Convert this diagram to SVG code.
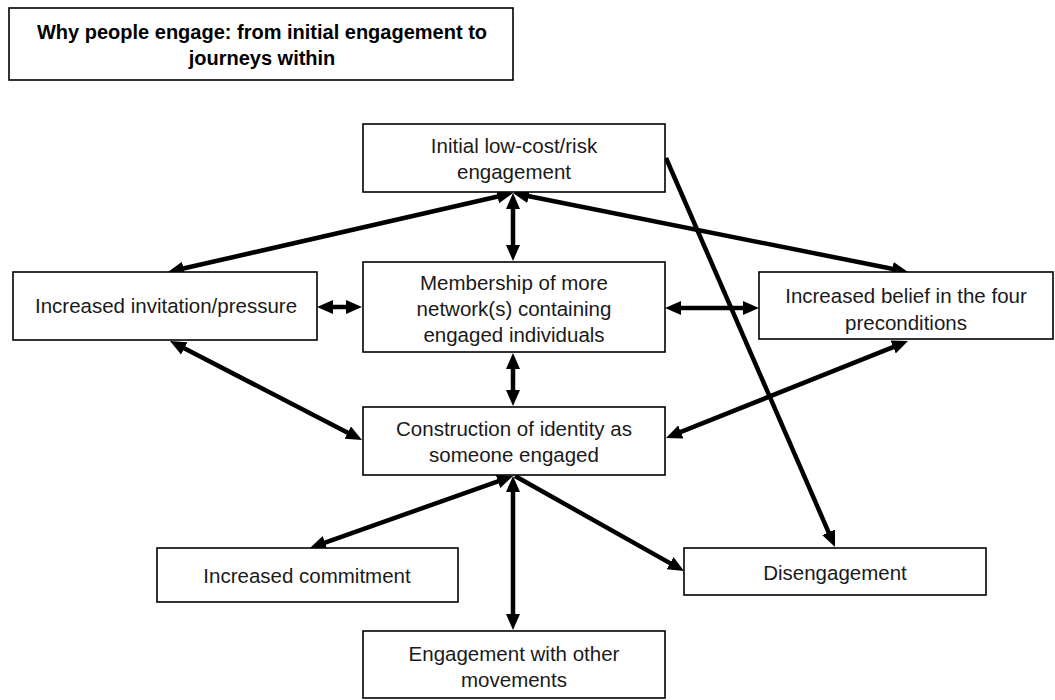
<svg xmlns="http://www.w3.org/2000/svg" width="1055" height="700" viewBox="0 0 1055 700">
<style>
.box{fill:#fff;stroke:#000;stroke-width:1.6}
.t{font-family:"Liberation Sans",Arial,sans-serif;font-size:20.5px;fill:#1a1a1a;text-anchor:middle}
.tb{font-family:"Liberation Sans",Arial,sans-serif;font-size:20px;font-weight:bold;fill:#000;text-anchor:middle}
.c{stroke:#000;stroke-width:4.5;fill:none}
.d{marker-start:url(#ah);marker-end:url(#ah)}
.s{marker-end:url(#ah)}
</style>
<defs>
<marker id="ah" markerUnits="userSpaceOnUse" markerWidth="18" markerHeight="16" refX="6" refY="7" orient="auto-start-reverse" viewBox="0 0 18 14">
<path d="M0,0 L16,7 L0,14 z" fill="#000"/>
</marker>
</defs>
<rect width="1055" height="700" fill="#fff"/>
<g id="title">
<rect class="box" x="9" y="8" width="504" height="72"/>
<text class="tb" x="262" y="39">Why people engage: from initial engagement to</text>
<text class="tb" x="262" y="65">journeys within</text>
</g>
<g id="connectors">
<line class="c d" x1="513" y1="203" x2="513" y2="251"/>
<line class="c d" x1="177.7" y1="269.8" x2="503.3" y2="195.2"/>
<line class="c d" x1="522.8" y1="195.0" x2="898.2" y2="270.0"/>
<line class="c d" x1="327" y1="307" x2="352" y2="307"/>
<line class="c d" x1="675" y1="308" x2="749" y2="308"/>
<line class="c d" x1="513" y1="363" x2="513" y2="396"/>
<line class="c d" x1="178.9" y1="345.6" x2="353.1" y2="435.4"/>
<line class="c d" x1="898.7" y1="344.8" x2="675.3" y2="434.2"/>
<line class="c d" x1="503.6" y1="479.3" x2="319.4" y2="544.7"/>
<line class="c d" x1="513" y1="486" x2="513" y2="620"/>
<line class="c s" x1="515" y1="476" x2="675.3" y2="566.1"/>
<line class="c s" x1="666" y1="158" x2="831.0" y2="537.8"/>
</g>
<g id="initial">
<rect class="box" x="363" y="124" width="302" height="68"/>
<text class="t" x="514" y="153">Initial low-cost/risk</text>
<text class="t" x="514" y="179">engagement</text>
</g>
<g id="membership">
<rect class="box" x="363" y="262" width="302" height="90"/>
<text class="t" x="514" y="290">Membership of more</text>
<text class="t" x="514" y="316">network(s) containing</text>
<text class="t" x="514" y="342">engaged individuals</text>
</g>
<g id="invitation">
<rect class="box" x="13" y="272" width="304" height="68"/>
<text class="t" x="166" y="313">Increased invitation/pressure</text>
</g>
<g id="belief">
<rect class="box" x="759" y="272" width="294" height="67"/>
<text class="t" x="906" y="303">Increased belief in the four</text>
<text class="t" x="906" y="330">preconditions</text>
</g>
<g id="construction">
<rect class="box" x="363" y="407" width="302" height="68"/>
<text class="t" x="514" y="436">Construction of identity as</text>
<text class="t" x="514" y="462">someone engaged</text>
</g>
<g id="commitment">
<rect class="box" x="157" y="548" width="301" height="54"/>
<text class="t" x="307" y="583">Increased commitment</text>
</g>
<g id="disengagement">
<rect class="box" x="684" y="548" width="302" height="47"/>
<text class="t" x="835" y="580">Disengagement</text>
</g>
<g id="other">
<rect class="box" x="363" y="631" width="302" height="67"/>
<text class="t" x="514" y="661">Engagement with other</text>
<text class="t" x="514" y="687">movements</text>
</g>
</svg>
